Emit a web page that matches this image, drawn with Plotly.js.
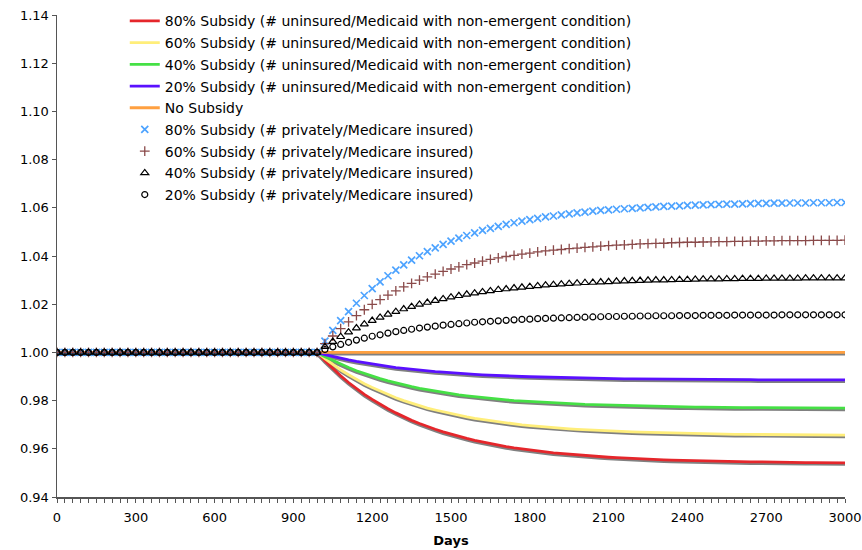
<!DOCTYPE html>
<html>
<head>
<meta charset="utf-8">
<script src="https://cdn.plot.ly/plotly-3.0.1.min.js"></script>
<style>html,body{margin:0;padding:0;background:#fff;}#chart{width:862px;height:550px;}</style>
</head>
<body>
<div id="chart"></div>
<script>
// Days (category axis, every 30 days)
const days = [0,30,60,90,120,150,180,210,240,270,300,330,360,390,420,450,480,510,540,570,
600,630,660,690,720,750,780,810,840,870,900,930,960,990,1020,1050,1080,1110,1140,1170,
1200,1230,1260,1290,1320,1350,1380,1410,1440,1470,1500,1530,1560,1590,1620,1650,1680,1710,1740,1770,
1800,1830,1860,1890,1920,1950,1980,2010,2040,2070,2100,2130,2160,2190,2220,2250,2280,2310,2340,2370,
2400,2430,2460,2490,2520,2550,2580,2610,2640,2670,2700,2730,2760,2790,2820,2850,2880,2910,2940,2970,3000];

// Uninsured / Medicaid with non-emergent condition
const unins80 = [1,1,1,1,1,1,1,1,1,1, 1,1,1,1,1,1,1,1,1,1, 1,1,1,1,1,1,1,1,1,1, 1,1,1,1,
0.9965,0.9933,0.9903,0.9875,0.9850,0.9826,0.9805,0.9785,0.9766,0.9749,
0.9733,0.9718,0.9705,0.9692,0.9681,0.9670,0.9660,0.9651,0.9643,0.9635,
0.9628,0.9621,0.9615,0.9609,0.9604,0.9599,0.9595,0.9590,0.9587,0.9583,
0.9580,0.9577,0.9574,0.9571,0.9569,0.9567,0.9565,0.9563,0.9561,0.9560,
0.9558,0.9557,0.9555,0.9554,0.9553,0.9552,0.9551,0.9550,0.9550,0.9549,
0.9548,0.9548,0.9547,0.9546,0.9546,0.9546,0.9545,0.9545,0.9544,0.9544,
0.9544,0.9543,0.9543,0.9543,0.9543,0.9543,0.9542];
const unins60 = [1,1,1,1,1,1,1,1,1,1, 1,1,1,1,1,1,1,1,1,1, 1,1,1,1,1,1,1,1,1,1, 1,1,1,1,
0.9974,0.9950,0.9927,0.9907,0.9888,0.9870,0.9854,0.9839,0.9825,0.9812,
0.9800,0.9789,0.9779,0.9769,0.9761,0.9753,0.9745,0.9738,0.9732,0.9726,
0.9721,0.9716,0.9711,0.9707,0.9703,0.9699,0.9696,0.9693,0.9690,0.9687,
0.9685,0.9683,0.9681,0.9679,0.9677,0.9675,0.9674,0.9672,0.9671,0.9670,
0.9669,0.9668,0.9667,0.9666,0.9665,0.9664,0.9663,0.9663,0.9662,0.9662,
0.9661,0.9661,0.9660,0.9660,0.9660,0.9659,0.9659,0.9659,0.9658,0.9658,
0.9658,0.9658,0.9657,0.9657,0.9657,0.9657,0.9657];
const unins40 = [1,1,1,1,1,1,1,1,1,1, 1,1,1,1,1,1,1,1,1,1, 1,1,1,1,1,1,1,1,1,1, 1,1,1,1,
0.9982,0.9966,0.9951,0.9937,0.9924,0.9912,0.9902,0.9891,0.9882,0.9873,
0.9865,0.9858,0.9851,0.9845,0.9839,0.9834,0.9829,0.9824,0.9820,0.9816,
0.9812,0.9809,0.9806,0.9803,0.9800,0.9798,0.9796,0.9793,0.9792,0.9790,
0.9788,0.9787,0.9785,0.9784,0.9783,0.9782,0.9781,0.9780,0.9779,0.9778,
0.9777,0.9776,0.9776,0.9775,0.9775,0.9774,0.9774,0.9773,0.9773,0.9772,
0.9772,0.9772,0.9771,0.9771,0.9771,0.9771,0.9770,0.9770,0.9770,0.9770,
0.9770,0.9770,0.9769,0.9769,0.9769,0.9769,0.9769];
const unins20 = [1,1,1,1,1,1,1,1,1,1, 1,1,1,1,1,1,1,1,1,1, 1,1,1,1,1,1,1,1,1,1, 1,1,1,1,
0.9991,0.9983,0.9976,0.9969,0.9963,0.9957,0.9951,0.9946,0.9942,0.9937,
0.9933,0.9930,0.9926,0.9923,0.9920,0.9918,0.9915,0.9913,0.9911,0.9909,
0.9907,0.9905,0.9904,0.9902,0.9901,0.9900,0.9899,0.9898,0.9897,0.9896,
0.9895,0.9894,0.9894,0.9893,0.9892,0.9892,0.9891,0.9891,0.9890,0.9890,
0.9890,0.9889,0.9889,0.9889,0.9888,0.9888,0.9888,0.9888,0.9887,0.9887,
0.9887,0.9887,0.9887,0.9887,0.9887,0.9886,0.9886,0.9886,0.9886,0.9886,
0.9886,0.9886,0.9886,0.9886,0.9886,0.9886,0.9886];
const noSubsidy = [1,1,1,1,1,1,1,1,1,1, 1,1,1,1,1,1,1,1,1,1, 1,1,1,1,1,1,1,1,1,1, 1,1,1,1,
0.9998,0.9998,0.9998,0.9998,0.9998,0.9998,0.9998,0.9998,0.9998,0.9998,
0.9998,0.9998,0.9998,0.9998,0.9998,0.9998,0.9998,0.9998,0.9998,0.9998,
0.9998,0.9998,0.9998,1,1,1,1,1,1,1,
1,1,1,1,1,1,1,1,1,1, 1,1,1,1,1,1,1,1,1,1, 1,1,1,1,1,1,1,1,1,1, 1,1,1,1,1,1,1];

// Privately / Medicare insured
const priv80 = [1,1,1,1,1,1,1,1,1,1, 1,1,1,1,1,1,1,1,1,1, 1,1,1,1,1,1,1,1,1,1, 1,1,1,1,
1.0047,1.0091,1.0132,1.0169,1.0204,1.0236,1.0265,1.0293,1.0318,1.0341,
1.0363,1.0383,1.0401,1.0418,1.0434,1.0448,1.0462,1.0474,1.0485,1.0496,
1.0506,1.0515,1.0523,1.0531,1.0538,1.0545,1.0551,1.0556,1.0562,1.0566,
1.0571,1.0575,1.0579,1.0582,1.0586,1.0589,1.0591,1.0594,1.0596,1.0598,
1.0600,1.0602,1.0604,1.0606,1.0607,1.0608,1.0610,1.0611,1.0612,1.0613,
1.0614,1.0615,1.0615,1.0616,1.0617,1.0618,1.0618,1.0619,1.0619,1.0620,
1.0620,1.0620,1.0621,1.0621,1.0621,1.0622,1.0622];
const priv60 = [1,1,1,1,1,1,1,1,1,1, 1,1,1,1,1,1,1,1,1,1, 1,1,1,1,1,1,1,1,1,1, 1,1,1,1,
1.0036,1.0068,1.0099,1.0127,1.0153,1.0177,1.0199,1.0219,1.0238,1.0255,
1.0272,1.0286,1.0300,1.0313,1.0325,1.0336,1.0346,1.0355,1.0364,1.0371,
1.0379,1.0386,1.0392,1.0398,1.0403,1.0408,1.0412,1.0417,1.0421,1.0424,
1.0427,1.0431,1.0433,1.0436,1.0438,1.0441,1.0443,1.0445,1.0446,1.0448,
1.0450,1.0451,1.0452,1.0453,1.0455,1.0456,1.0457,1.0457,1.0458,1.0459,
1.0460,1.0460,1.0461,1.0461,1.0462,1.0462,1.0463,1.0463,1.0464,1.0464,
1.0464,1.0464,1.0465,1.0465,1.0465,1.0465,1.0466];
const priv40 = [1,1,1,1,1,1,1,1,1,1, 1,1,1,1,1,1,1,1,1,1, 1,1,1,1,1,1,1,1,1,1, 1,1,1,1,
1.0024,1.0045,1.0065,1.0084,1.0101,1.0117,1.0132,1.0145,1.0158,1.0169,
1.0180,1.0190,1.0199,1.0207,1.0215,1.0222,1.0229,1.0235,1.0241,1.0246,
1.0251,1.0255,1.0260,1.0263,1.0267,1.0270,1.0273,1.0276,1.0279,1.0281,
1.0283,1.0285,1.0287,1.0289,1.0290,1.0292,1.0293,1.0295,1.0296,1.0297,
1.0298,1.0299,1.0300,1.0300,1.0301,1.0302,1.0302,1.0303,1.0304,1.0304,
1.0304,1.0305,1.0305,1.0306,1.0306,1.0306,1.0307,1.0307,1.0307,1.0307,
1.0307,1.0308,1.0308,1.0308,1.0308,1.0308,1.0308];
const priv20 = [1,1,1,1,1,1,1,1,1,1, 1,1,1,1,1,1,1,1,1,1, 1,1,1,1,1,1,1,1,1,1, 1,1,1,1,
1.0012,1.0023,1.0033,1.0042,1.0051,1.0059,1.0067,1.0073,1.0080,1.0086,
1.0091,1.0096,1.0101,1.0105,1.0109,1.0113,1.0116,1.0119,1.0122,1.0125,
1.0127,1.0129,1.0131,1.0133,1.0135,1.0137,1.0138,1.0140,1.0141,1.0142,
1.0143,1.0144,1.0145,1.0146,1.0147,1.0148,1.0149,1.0149,1.0150,1.0150,
1.0151,1.0151,1.0152,1.0152,1.0152,1.0153,1.0153,1.0153,1.0154,1.0154,
1.0154,1.0154,1.0155,1.0155,1.0155,1.0155,1.0155,1.0155,1.0156,1.0156,
1.0156,1.0156,1.0156,1.0156,1.0156,1.0156,1.0156];

const lineNames = [
  '80% Subsidy (# uninsured/Medicaid with non-emergent condition)',
  '60% Subsidy (# uninsured/Medicaid with non-emergent condition)',
  '40% Subsidy (# uninsured/Medicaid with non-emergent condition)',
  '20% Subsidy (# uninsured/Medicaid with non-emergent condition)',
  'No Subsidy'
];
const markerNames = [
  '80% Subsidy (# privately/Medicare insured)',
  '60% Subsidy (# privately/Medicare insured)',
  '40% Subsidy (# privately/Medicare insured)',
  '20% Subsidy (# privately/Medicare insured)'
];

const lineSeries = [unins80, unins60, unins40, unins20, noSubsidy];
const lineColors = ['#e5262b', '#ffee7a', '#45e045', '#5a10ff', '#ffa040'];
const markerSeries = [priv80, priv60, priv40, priv20];
const markerStyles = [
  {symbol: 'x-thin', size: 7, color: '#4da3ff', lw: 1.7},
  {symbol: 'cross-thin', size: 7, color: '#8a4a4a', lw: 1.3},
  {symbol: 'triangle-up-open', size: 7, color: '#000000', lw: 1.2},
  {symbol: 'circle-open', size: 6, color: '#000000', lw: 1.2}
];

const SHADOW = 0.0007; // drop-shadow offset in data units (~1.7px)
const traces = [];
// shadows
lineSeries.forEach((s, i) => {
  traces.push({
    x: days, y: s.map(v => v - SHADOW), type: 'scatter', mode: 'lines',
    line: {color: '#808080', width: 2.8}, showlegend: false, hoverinfo: 'skip',
    legendgroup: 'g' + i
  });
});
// colored lines
lineSeries.forEach((s, i) => {
  traces.push({
    x: days, y: s, type: 'scatter', mode: 'lines', name: lineNames[i],
    line: {color: lineColors[i], width: 2.8}, legendgroup: 'g' + i
  });
});
// markers
markerSeries.forEach((s, i) => {
  const st = markerStyles[i];
  traces.push({
    x: days, y: s, type: 'scatter', mode: 'markers', name: markerNames[i],
    legendgroup: 'm' + i,
    marker: {symbol: st.symbol, size: st.size, color: st.color,
             line: {color: st.color, width: st.lw}}
  });
});

const font = {family: 'DejaVu Sans, Verdana, sans-serif', size: 13, color: '#000'};
const legendFont = {family: 'DejaVu Sans, Verdana, sans-serif', size: 14, color: '#000'};
const layout = {
  width: 862, height: 550,
  margin: {l: 57, r: 17, t: 15, b: 53, autoexpand: false},
  paper_bgcolor: '#fff', plot_bgcolor: '#fff',
  font: font,
  showlegend: true,
  legend: {
    x: 0.086, y: 1.02, xanchor: 'left', yanchor: 'top',
    bgcolor: 'rgba(0,0,0,0)', font: legendFont,
    traceorder: 'grouped', tracegroupgap: 0.5, itemwidth: 30
  },
  xaxis: {
    range: [0, 3000], tick0: 0, dtick: 300,
    ticks: 'outside', ticklen: 4, tickcolor: '#555', tickwidth: 1,
    minor: {dtick: 30, ticks: 'outside', ticklen: 4, tickcolor: '#555', tickwidth: 1},
    showline: true, linecolor: '#555', linewidth: 1.5,
    showgrid: false, zeroline: false,
    ticklabelstandoff: 4,
    tickfont: font,
    title: {text: '<b>Days</b>', font: font, standoff: 12}
  },
  yaxis: {
    range: [0.94, 1.14], tick0: 0.94, dtick: 0.02, tickformat: '.2f',
    ticks: 'outside', ticklen: 4, tickcolor: '#555', tickwidth: 1,
    showline: true, linecolor: '#555', linewidth: 1.5,
    showgrid: false, zeroline: false,
    tickfont: font
  }
};

Plotly.newPlot('chart', traces, layout, {displayModeBar: false, staticPlot: true});
</script>
</body>
</html>
